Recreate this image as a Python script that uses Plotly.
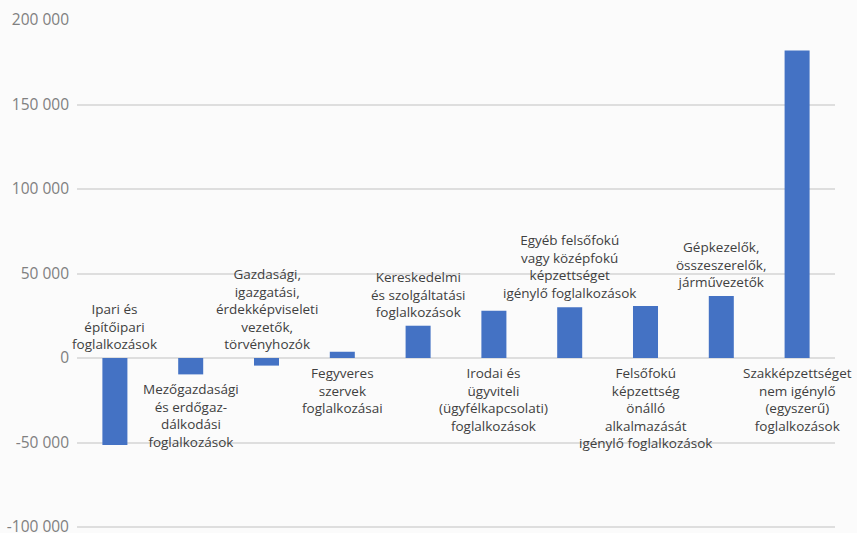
import plotly.graph_objects as go

categories = [
    "Ipari és<br>építőipari<br>foglalkozások",
    "Mezőgazdasági<br>és erdőgaz-<br>dálkodási<br>foglalkozások",
    "Gazdasági,<br>igazgatási,<br>érdekképviseleti<br>vezetők,<br>törvényhozók",
    "Fegyveres<br>szervek<br>foglalkozásai",
    "Kereskedelmi<br>és szolgáltatási<br>foglalkozások",
    "Irodai és<br>ügyviteli<br>(ügyfélkapcsolati)<br>foglalkozások",
    "Egyéb felsőfokú<br>vagy középfokú<br>képzettséget<br>igénylő foglalkozások",
    "Felsőfokú<br>képzettség<br>önálló<br>alkalmazását<br>igénylő foglalkozások",
    "Gépkezelők,<br>összeszerelők,<br>járművezetők",
    "Szakképzettséget<br>nem igénylő<br>(egyszerű)<br>foglalkozások",
]
values = [-51500, -9700, -4500, 3700, 19100, 28000, 30000, 30800, 36700, 181900]

tick_vals = [-100000, -50000, 0, 50000, 100000, 150000, 200000]
tick_text = ["-100 000", "-50 000", "0", "50 000", "100 000", "150 000", "200 000"]

ids = list(range(len(categories)))

fig = go.Figure()
fig.add_trace(go.Bar(x=ids, y=values, marker=dict(color="#4472C4", line=dict(width=0)),
                     width=0.33, hoverinfo="skip"))

annotations = []
for i, (c, v) in enumerate(zip(categories, values)):
    if i % 2 == 0:
        annotations.append(dict(x=i, y=max(v, 0), xref="x", yref="y", text=c, showarrow=False,
                                yanchor="bottom", yshift=3, align="center",
                                font=dict(family="Open Sans", size=13.5, color="#404040")))
    else:
        annotations.append(dict(x=i, y=min(v, 0), xref="x", yref="y", text=c, showarrow=False,
                                yanchor="top", yshift=-4, align="center",
                                font=dict(family="Open Sans", size=13.5, color="#404040")))

fig.update_layout(
    width=857, height=533,
    margin=dict(l=77, r=22, t=20, b=0),
    paper_bgcolor="#fbfbfb", plot_bgcolor="#fbfbfb",
    showlegend=False,
    annotations=annotations,
    xaxis=dict(range=[-0.5, len(categories) - 0.5], showticklabels=False, showgrid=False,
               zeroline=False, showline=False, ticks="", automargin=False),
    yaxis=dict(range=[-103550, 200000], tickvals=tick_vals, ticktext=tick_text,
               showgrid=True, gridcolor="#dedede", gridwidth=2,
               zeroline=True, zerolinecolor="#dedede", zerolinewidth=2,
               showline=False, ticks="", ticklabelstandoff=7, ticklabeloverflow="allow",
               automargin=False,
               tickfont=dict(family="Open Sans", size=15.5, color="#808080")),
)

fig.write_html("out.html")
